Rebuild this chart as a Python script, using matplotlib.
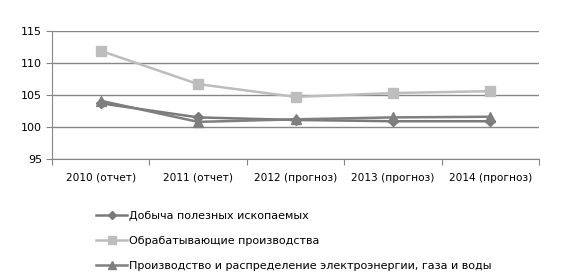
import matplotlib
matplotlib.use("Agg")
import matplotlib.pyplot as plt
import numpy as np

plt.rcParams['font.family'] = ['DejaVu Sans']

categories = ["2010 (отчет)", "2011 (отчет)", "2012 (прогноз)", "2013 (прогноз)", "2014 (прогноз)"]
mining = [103.7, 101.5, 101.1, 100.9, 100.9]
manufacturing = [111.9, 106.7, 104.7, 105.3, 105.6]
utilities = [104.1, 100.8, 101.2, 101.5, 101.6]

labels = ["Добыча полезных ископаемых",
          "Обрабатывающие производства",
          "Производство и распределение электроэнергии, газа и воды"]

fig = plt.figure(figsize=(5.69, 2.77), dpi=100)
ax = fig.add_axes([52 / 569, 1 - 159 / 277, 487 / 569, 128 / 277])

x = np.arange(len(categories))
ax.plot(x, mining, color="#7a7a7a", lw=1.8, marker="D", ms=5.5, label=labels[0])
ax.plot(x, manufacturing, color="#bdbdbd", lw=1.8, marker="s", ms=6.5, label=labels[1])
ax.plot(x, utilities, color="#7f7f7f", lw=1.8, marker="^", ms=6.5, label=labels[2])

ax.set_xlim(-0.5, len(categories) - 0.5)
ax.set_ylim(95, 115)
ax.set_yticks([95, 100, 105, 110, 115])
ax.yaxis.grid(True, color="#868686", lw=1)
ax.set_axisbelow(True)

ax.set_xticks(np.arange(len(categories) + 1) - 0.5)
ax.set_xticklabels([])
ax.set_xticks(x, minor=True)
ax.set_xticklabels(categories, minor=True)
ax.tick_params(axis="x", which="minor", length=0, pad=10, labelsize=7.6)
ax.tick_params(axis="x", which="major", length=4, color="#868686")
ax.tick_params(axis="y", length=4, color="#868686", labelsize=8, pad=3)

for side in ["top", "right"]:
    ax.spines[side].set_visible(False)
for side in ["left", "bottom"]:
    ax.spines[side].set_color("#868686")

fig.legend(loc="upper left", bbox_to_anchor=(96 / 569, 1 - 211 / 277), frameon=False,
           fontsize=8, handlelength=2.8, handletextpad=0.2, labelspacing=1.33,
           borderaxespad=0, borderpad=0, markerscale=0.8)

fig.savefig("out.png", dpi=100)
